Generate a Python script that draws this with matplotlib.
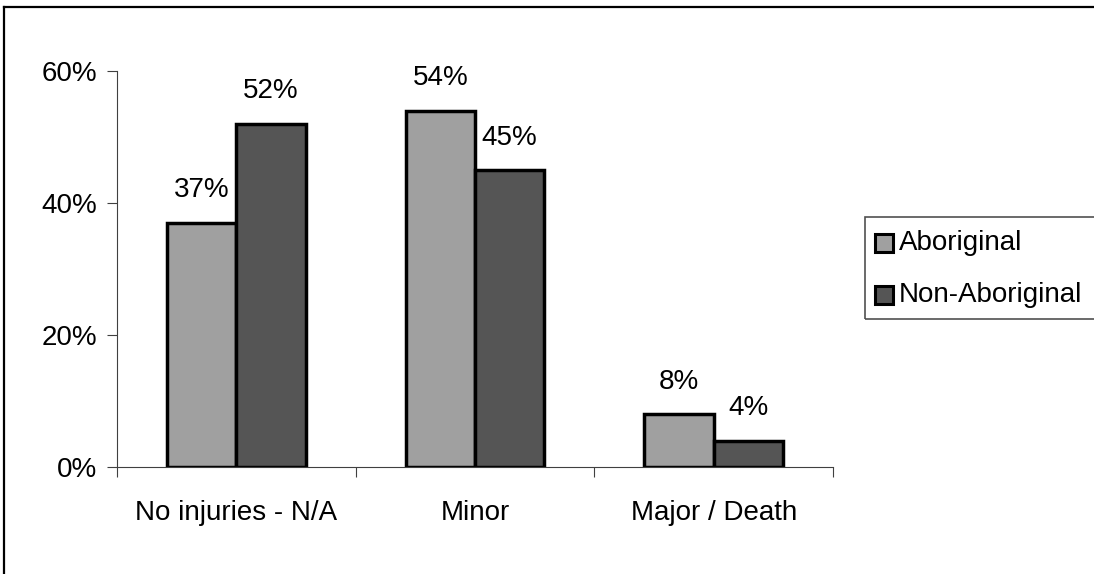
import matplotlib.pyplot as plt
import numpy as np
from matplotlib.patches import Rectangle
from matplotlib.lines import Line2D

plt.rcParams['font.family'] = ['Liberation Sans', 'DejaVu Sans']

categories = ["No injuries - N/A", "Minor", "Major / Death"]
aboriginal = [37, 54, 8]
non_aboriginal = [52, 45, 4]
series_names = ["Aboriginal", "Non-Aboriginal"]
colors = ["#A0A0A0", "#555555"]

W, H = 1094, 574
fig = plt.figure(figsize=(W/100, H/100), dpi=100)
ax = fig.add_axes([117/W, 1-467/H, 716/W, 396/H])

def fx(px):
    return px / W

def fy(py):
    return 1 - py / H

x = np.arange(len(categories))
w = 0.29
b1 = ax.bar(x - w/2, aboriginal, w, color=colors[0], edgecolor="black", lw=2.5)
b2 = ax.bar(x + w/2, non_aboriginal, w, color=colors[1], edgecolor="black", lw=2.5)

for bars, vals in ((b1, aboriginal), (b2, non_aboriginal)):
    for r, v in zip(bars, vals):
        ax.annotate(f"{v}%", (r.get_x() + r.get_width()/2, v), xytext=(0, 14),
                    textcoords="offset points", ha="center", va="bottom",
                    fontsize=20)

ax.set_xlim(-0.5, 2.5)
ax.set_ylim(0, 60)
ax.set_yticks([0, 20, 40, 60])
ax.set_yticklabels([f"{t}%" for t in [0, 20, 40, 60]], fontsize=20)
ax.set_xticks([-0.5, 0.5, 1.5, 2.5])
ax.set_xticklabels([])
ax.set_xticks(x, minor=True)
ax.set_xticklabels(categories, minor=True, fontsize=20)
ax.tick_params(axis="x", which="minor", length=0, pad=24)
ax.tick_params(axis="x", which="major", direction="out", length=7, color="#404040")
ax.tick_params(axis="y", direction="out", length=7, color="#404040", pad=7)
ax.spines["top"].set_visible(False)
ax.spines["right"].set_visible(False)
ax.spines["left"].set_color("#404040")
ax.spines["bottom"].set_color("#404040")

# legend drawn by hand to match the Excel look
fig.add_artist(Rectangle((fx(865), fy(319)), fx(240), 102/H, transform=fig.transFigure,
                         fill=False, ec="#505050", lw=1.2))
for i, (name, c) in enumerate(zip(series_names, colors)):
    cy = 243 + 52*i
    fig.add_artist(Rectangle((fx(875), fy(cy + 9)), fx(18), 18/H,
                             transform=fig.transFigure, fc=c, ec="black", lw=2.2))
    fig.text(fx(899), fy(cy), name, va="center", ha="left", fontsize=20)

# outer chart border (top and left visible)
fig.add_artist(Line2D([fx(4), 1], [fy(7), fy(7)], transform=fig.transFigure,
                      color="black", lw=1.6))
fig.add_artist(Line2D([fx(4), fx(4)], [fy(7), 0], transform=fig.transFigure,
                      color="black", lw=1.6))

fig.savefig("out.png", dpi=100, facecolor="white")
